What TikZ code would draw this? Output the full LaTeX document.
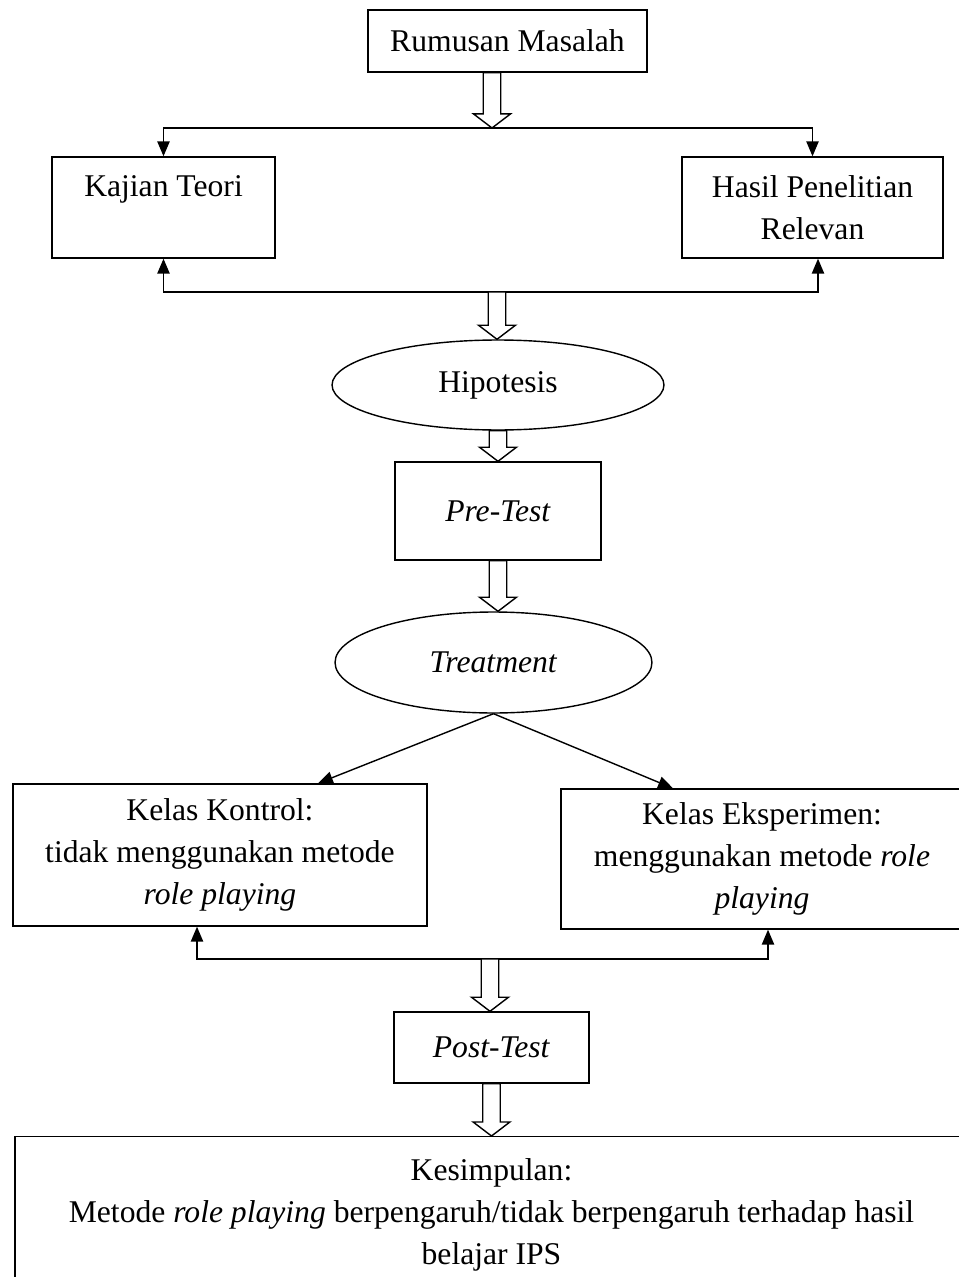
\documentclass[tikz,border=0pt]{standalone}
\usepackage{fontspec}
\setmainfont{Liberation Serif}
\usetikzlibrary{arrows.meta,calc,shapes.geometric}

\tikzset{
	box/.style={draw, line width=0.8pt, align=center, inner sep=0pt, font=\fontsize{18}{24}\selectfont},
	oval/.style={draw, ellipse, line width=0.8pt, inner sep=0pt, font=\fontsize{18}{24}\selectfont},
	conn/.style={line width=0.8pt, -{Triangle[width=7pt, length=8.5pt]}},
}

% hollow block arrow from #1 down to #2
\newcommand{\blockarrow}[2]{%
	\draw[line width=0.8pt, fill=white] let \p1=(#1), \p2=(#2) in
		(\x1-5pt,\y1) -- (\x1+5pt,\y1) -- (\x1+5pt,\y2+8pt) -- (\x1+10.5pt,\y2+8pt)
		-- (\x1,\y2) -- (\x1-10.5pt,\y2+8pt) -- (\x1-5pt,\y2+8pt) -- cycle;}

\begin{document}
\begin{tikzpicture}[x=0.02cm, y=-0.02cm]
		\useasboundingbox (0, 0) rectangle (958, 1277);
		\node[box, minimum width=5.58cm, minimum height=1.24cm] (rumusan) at (507.5, 41) {Rumusan Masalah};
		\node[box, minimum width=4.46cm, minimum height=2.02cm] (kajian) at (163.5, 207.5) {Kajian Teori\\ \mbox{}};
		\node[box, minimum width=5.22cm, minimum height=2.02cm] (hasil) at (812.5, 207.5) {Hasil Penelitian\\ Relevan};
		\node[oval, minimum width=6.64cm, minimum height=1.8cm] (hipotesis) at (498, 385) {Hipotesis};
		\node[box, minimum width=4.12cm, minimum height=1.96cm] (pretest) at (498, 511) {\textit{Pre-Test}};
		\node[oval, minimum width=6.34cm, minimum height=2.02cm] (treatment) at (493.5, 662.5) {\textit{Treatment}};
		\node[box, minimum width=8.28cm, minimum height=2.84cm] (kontrol) at (220, 855) {Kelas Kontrol:\\ tidak menggunakan metode\\ \textit{role playing}};
		\node[box, minimum width=8.04cm, minimum height=2.8cm] (eksperimen) at (762, 859) {Kelas Eksperimen:\\ menggunakan metode \textit{role}\\ \textit{playing}};
		\node[box, minimum width=3.9cm, minimum height=1.42cm] (posttest) at (491.5, 1047.5) {\textit{Post-Test}};
		\node[box, anchor=north, minimum width=19.06cm, minimum height=3.84cm] (kesimpulan) at (491.5, 1136) {Kesimpulan:\\ Metode \textit{role playing} berpengaruh/tidak berpengaruh terhadap hasil\\ belajar IPS\\ \mbox{}};

		\coordinate (split) at (492, 128);
		\coordinate (merge) at (497, 292);
		\coordinate (merge2) at (490, 959);

		\draw[conn] (split) -| (kajian.north);
		\draw[conn] (split) -| (hasil.north);
		\draw[conn] (merge) -| (kajian.south);
		\draw[conn] (merge) -| ([xshift=0.11cm]hasil.south);
		\draw[conn] (treatment.south) -- ([xshift=1.96cm]kontrol.north);
		\draw[conn] (treatment.south) -- ([xshift=-1.78cm]eksperimen.north);
		\draw[conn] (merge2) -| ([xshift=-0.46cm]kontrol.south);
		\draw[conn] (merge2) -| ([xshift=0.12cm]eksperimen.south);

		\blockarrow{split |- rumusan.south}{split};
		\blockarrow{merge}{merge |- hipotesis.north};
		\blockarrow{hipotesis.south}{hipotesis.south |- pretest.north};
		\blockarrow{pretest.south}{pretest.south |- treatment.north};
		\blockarrow{merge2}{merge2 |- posttest.north};
		\blockarrow{posttest.south}{posttest.south |- kesimpulan.north};
	\end{tikzpicture}
\end{document}
